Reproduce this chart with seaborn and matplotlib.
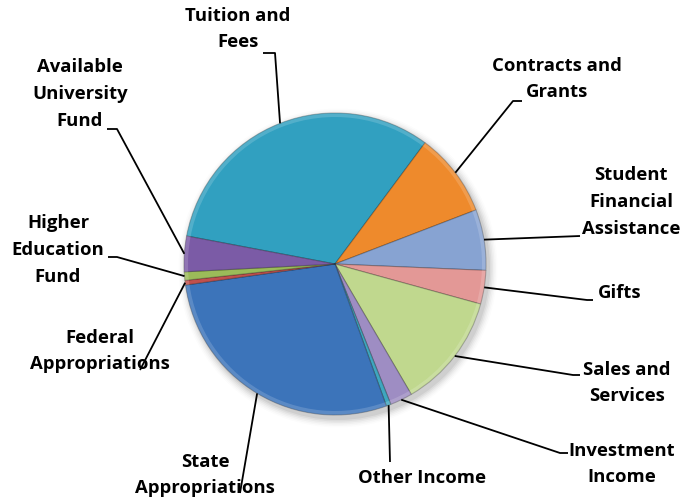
import matplotlib
matplotlib.use("Agg")
import matplotlib.pyplot as plt
import seaborn as sns
import numpy as np

# Revenue sources (percent of total), listed clockwise from "Tuition and Fees"
categories = [
    "Tuition and\nFees",
    "Contracts and\nGrants",
    "Student\nFinancial\nAssistance",
    "Gifts",
    "Sales and\nServices",
    "Investment\nIncome",
    "Other Income",
    "State\nAppropriations",
    "Federal\nAppropriations",
    "Higher\nEducation\nFund",
    "Available\nUniversity\nFund",
]
shares = [32.2, 9.0, 6.5, 3.6, 12.3, 2.4, 0.5, 28.3, 0.5, 0.9, 3.8]
colors = [
    "#31A0C0", "#EE8A2C", "#87A3D2", "#E39896", "#C0D88E", "#9E8DC3",
    "#3FA6BF", "#3C74BA", "#C0504D", "#9BBB59", "#7B5BA6",
]

sns.set_theme(style="white")
plt.rcParams["font.family"] = ["Open Sans", "DejaVu Sans"]

W, H = 683, 501
fig = plt.figure(figsize=(W / 100, H / 100), dpi=100)
ax = fig.add_axes([0, 0, 1, 1])


def fy(y):
    """Convert a top-down pixel row to the axes' bottom-up coordinate."""
    return H - y


cx, cy, r = 335, fy(264), 151

# soft drop shadow under the pie
for k, a in enumerate(np.linspace(0.05, 0.012, 6)):
    ax.add_patch(plt.Circle((cx + 3, cy - 4), r + 1 + k * 1.5, color="black",
                            alpha=a, lw=0, zorder=0))

wedges, _ = ax.pie(
    shares, colors=colors, startangle=169.3, counterclock=False,
    center=(cx, cy), radius=r, frame=True,
    wedgeprops=dict(edgecolor=(0, 0, 0, 0.25), linewidth=0.8),
)
ax.set_xlim(0, W)
ax.set_ylim(0, H)
ax.set_aspect("equal")
ax.axis("off")

# bevel: a light rim along the outer edge of each wedge
for w in wedges:
    ax.add_patch(matplotlib.patches.Wedge((cx, cy), r, w.theta1, w.theta2, width=4,
                 facecolor="white", alpha=0.16, lw=0, zorder=3))

# label text positions (centre of the block) and leader elbows, pixel rows top-down
label_xy = [
    (238, 29), (557, 79), (631, 202), (620, 293), (627, 383), (622, 464),
    (422, 478), (205, 475), (100, 351), (58, 250), (80, 94),
]
elbows = [
    [(263, 53), (275, 53)],
    [(522, 101), (513, 101)],
    [(580, 236)],
    [(593, 300), (587, 300)],
    [(580, 375), (573, 375)],
    [(568, 453), (560, 453)],
    [(390, 462)],
    [(240, 493)],
    [(140, 370)],
    [(108, 257), (117, 257)],
    [(107, 129), (117, 129)],
]

for w, name, (lx, ly), pts in zip(wedges, categories, label_xy, elbows):
    ax.text(lx, fy(ly), name, ha="center", va="center", fontsize=13.3,
            fontweight="bold", color="black", linespacing=1.62, zorder=5)
    mid = np.deg2rad((w.theta1 + w.theta2) / 2)
    ex, ey = cx + r * np.cos(mid), cy + r * np.sin(mid)
    xs = [p[0] for p in pts] + [ex]
    ys = [fy(p[1]) for p in pts] + [ey]
    ax.plot(xs, ys, color="black", lw=1.3, zorder=4, solid_capstyle="butt")

fig.savefig("out.png", dpi=100, facecolor="white")
